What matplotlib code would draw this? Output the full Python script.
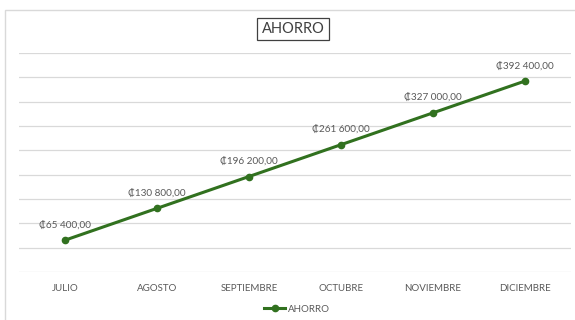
import matplotlib
matplotlib.use("Agg")
import matplotlib.pyplot as plt
from matplotlib.patches import Rectangle

months = ["JULIO", "AGOSTO", "SEPTIEMBRE", "OCTUBRE", "NOVIEMBRE", "DICIEMBRE"]
ahorro = [65400, 130800, 196200, 261600, 327000, 392400]
series_name = "AHORRO"

plt.rcParams["font.family"] = ["Lato", "DejaVu Sans"]

W, H = 575, 320
fig = plt.figure(figsize=(W / 100, H / 100), dpi=100)

# chart area frame
fig.patches.append(Rectangle((5 / W, -0.1), 1.0, (H - 10) / H + 0.1,
                             transform=fig.transFigure, fill=False,
                             edgecolor="#d9d9d9", linewidth=1.0))

ax = fig.add_axes([19 / W, 1 - 272 / H, (571 - 19) / W, (272 - 53) / H])
green = "#31711f"
x = list(range(len(months)))
ax.plot(x, ahorro, color=green, linewidth=2.2, marker="o", markersize=4.5,
        label=series_name, zorder=3)

ax.set_xlim(-0.5, len(months) - 0.5)
ax.set_ylim(0, 450000)
ax.set_yticks(range(0, 450001, 50000))
ax.yaxis.grid(True, color="#d9d9d9", linewidth=0.9)
ax.set_axisbelow(True)
ax.tick_params(axis="y", left=False, labelleft=False)
ax.tick_params(axis="x", bottom=False, labelsize=7, colors="#595959", pad=5)
ax.set_xticks(x)
ax.set_xticklabels(months)
for s in ax.spines.values():
    s.set_visible(False)


def fmt(v):
    s = f"{v:,.2f}".replace(",", " ").replace(".", ",")
    return "\u20a1" + s


for xi, v in zip(x, ahorro):
    ax.annotate(fmt(v), (xi, v), xytext=(0, 7), textcoords="offset points",
                ha="center", va="bottom", fontsize=7.2, color="#595959")

fig.text(293 / W, 1 - 29 / H, series_name, ha="center", va="center",
         fontsize=10.5, color="#404040",
         bbox=dict(boxstyle="square,pad=0.3", facecolor="white",
                   edgecolor="#404040", linewidth=0.9))

fig.legend(loc="center", bbox_to_anchor=(297 / W, 1 - 309 / H), frameon=False,
           fontsize=7, labelcolor="#595959", handlelength=2.2,
           handletextpad=0.3)

fig.savefig("out.png", dpi=100, facecolor="white")
